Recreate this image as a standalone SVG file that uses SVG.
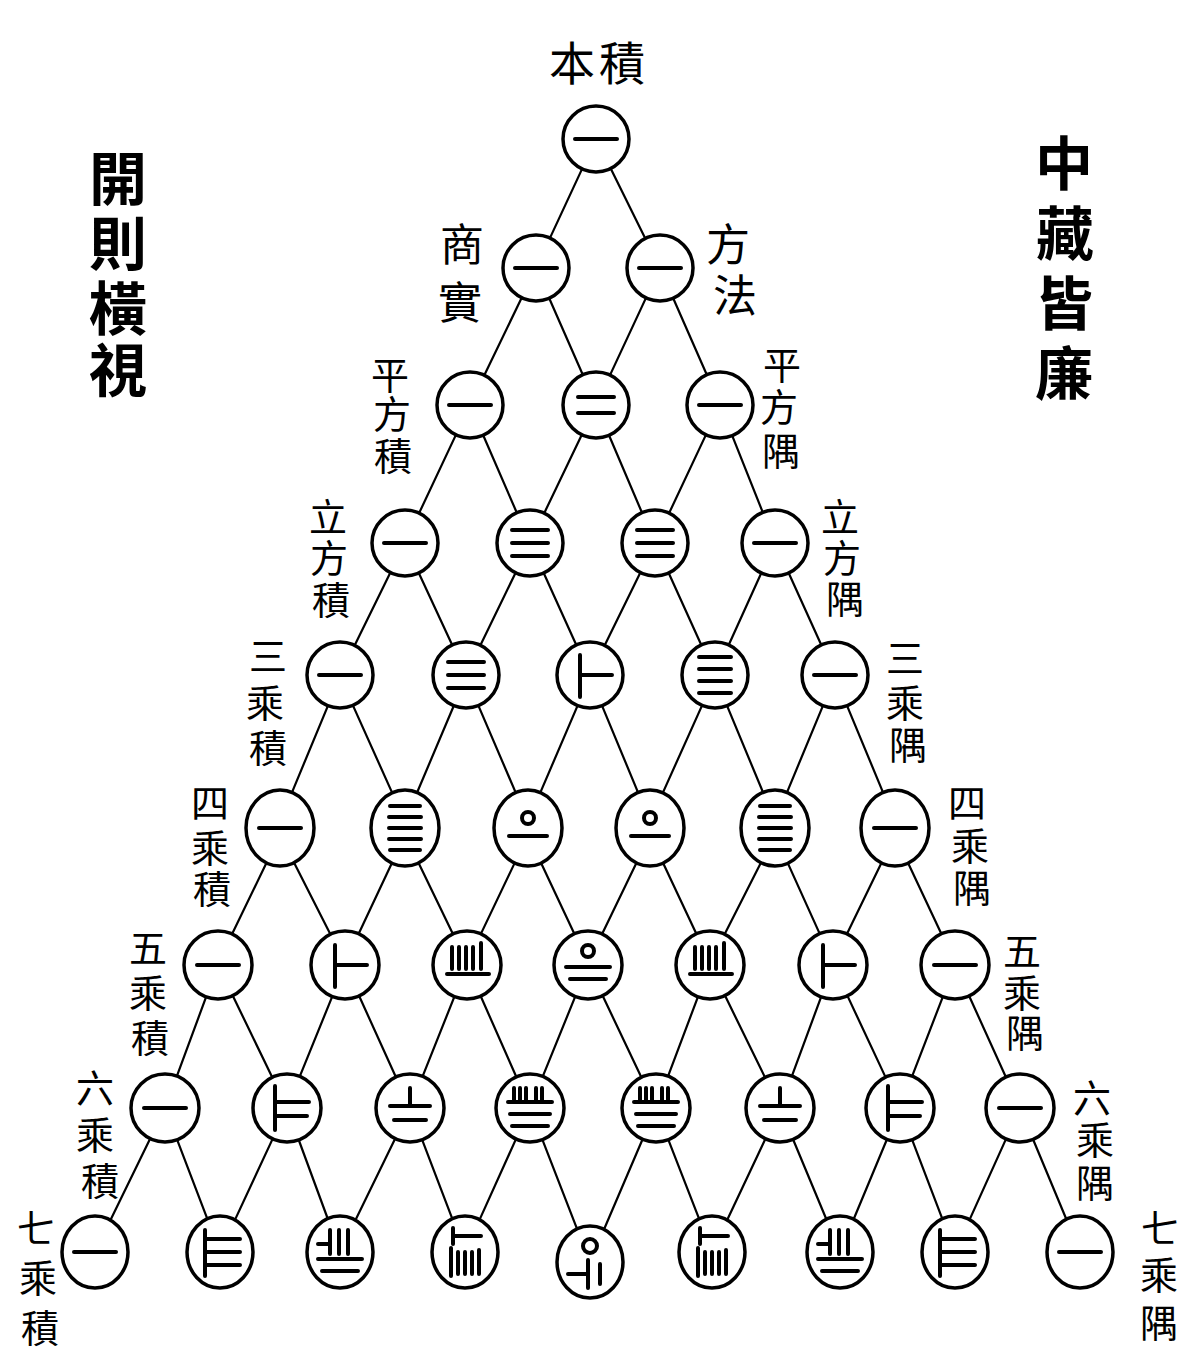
<svg xmlns="http://www.w3.org/2000/svg" width="1186" height="1355" viewBox="0 0 1186 1355">
<style>
  .bg{fill:#fff}
  .node circle,.node ellipse{fill:#fff;stroke:#000;stroke-width:3.5}
  .rod{fill:none;stroke:#000;stroke-width:4;stroke-linecap:round}
  .conn line{stroke:#000;stroke-width:2.2;stroke-linecap:round}
  .lab{font-family:"Noto Sans CJK TC","Noto Sans CJK SC",sans-serif;font-size:38px;text-anchor:middle;dominant-baseline:central;fill:#000}
  .ttl{font-family:"Noto Sans CJK TC","Noto Sans CJK SC",sans-serif;font-size:58px;font-weight:700;text-anchor:middle;dominant-baseline:central;fill:#000}
</style>
<defs>
  <g id="r1" class="rod"><path d="M-21,0H21"/></g>
  <g id="r2" class="rod"><path d="M-18,-8H18M-18,8H18"/></g>
  <g id="r3" class="rod"><path d="M-18,-13H18M-18,0H18M-18,13H18"/></g>
  <g id="r4" class="rod"><path d="M-16,-18H16M-16,-6H16M-16,6H16M-16,18H16"/></g>
  <g id="r5" class="rod"><path d="M-15,-22H15M-16,-11H16M-16,0H16M-16,11H16M-15,22H15"/></g>
  <g id="r6" class="rod"><path d="M-10,-20V22M-10,0H22"/></g>
  <g id="r7" class="rod"><path d="M-12,-22V22M-12,-6H22M-12,8H20"/></g>
  <g id="r8" class="rod"><path d="M-15,-22V24M-15,-13H20M-15,0H20M-15,13H20"/></g>
  <g id="r10" class="rod"><circle cx="0" cy="-10" r="6"/><path d="M-19,8H19"/></g>
  <g id="r15" class="rod"><path d="M-15,-18V4M-8,-18V4M-1,-18V4M6,-18V4M14,-22V4M-20,9H22"/></g>
  <g id="r20" class="rod"><circle cx="0" cy="-14" r="6"/><path d="M-22,2H22M-18,14H18"/></g>
  <g id="r21" class="rod"><path d="M0,-20V-2M-20,-2H20M-16,12H16"/></g>
  <g id="r28" class="rod"><path d="M-22,-8H-10M-10,-22V2M-1,-22V2M8,-22V2M-22,7H22M-18,19H18"/></g>
  <g id="r35" class="rod"><path d="M-16,-20V-6M-10,-20V-6M-4,-20V-6M6,-20V-6M12,-20V-6M-22,-6H22M-20,6H20M-18,18H18"/></g>
  <g id="r56" class="rod"><path d="M-12,-24V-8M-12,-16H16M-14,-4V24M-7,0V22M0,0V22M7,0V22M14,-2V22"/></g>
  <g id="r70" class="rod"><circle cx="0" cy="-16" r="7"/><path d="M-2,-2V26M-22,12H-2M10,2V22"/></g>
</defs>
<rect class="bg" x="0" y="0" width="1186" height="1355"/>

<g id="connectors" class="conn">
  <line x1="582.1" y1="168.9" x2="549.9" y2="238.1"/>
  <line x1="610.7" y1="168.6" x2="645.3" y2="238.4"/>

  <line x1="521.7" y1="297.7" x2="484.3" y2="375.3"/>
  <line x1="549.2" y1="298.2" x2="582.8" y2="374.8"/>
  <line x1="646" y1="297.9" x2="610" y2="375.1"/>
  <line x1="673.2" y1="298.2" x2="706.8" y2="374.8"/>

  <line x1="455.9" y1="434.9" x2="419.1" y2="513.1"/>
  <line x1="483.2" y1="435.3" x2="516.8" y2="512.7"/>
  <line x1="581.8" y1="434.8" x2="544.2" y2="513.2"/>
  <line x1="609" y1="435.3" x2="642" y2="512.7"/>
  <line x1="705.9" y1="434.9" x2="669.1" y2="513.1"/>
  <line x1="732.2" y1="435.6" x2="762.8" y2="512.4"/>

  <line x1="390.4" y1="572.6" x2="354.6" y2="645.4"/>
  <line x1="418.8" y1="573" x2="452.2" y2="645"/>
  <line x1="515.6" y1="572.7" x2="480.4" y2="645.3"/>
  <line x1="543.7" y1="573" x2="576.3" y2="645"/>
  <line x1="640.4" y1="572.6" x2="604.6" y2="645.4"/>
  <line x1="668.7" y1="573" x2="701.3" y2="645"/>
  <line x1="761.3" y1="573" x2="728.7" y2="645"/>
  <line x1="788.7" y1="573" x2="821.3" y2="645"/>

  <line x1="328" y1="705.7" x2="292" y2="792.3"/>
  <line x1="352.9" y1="705.4" x2="392.1" y2="792.6"/>
  <line x1="453.8" y1="705.7" x2="417.2" y2="792.3"/>
  <line x1="478.4" y1="705.6" x2="515.6" y2="792.4"/>
  <line x1="577.6" y1="705.6" x2="540.4" y2="792.4"/>
  <line x1="602" y1="705.7" x2="638" y2="792.3"/>
  <line x1="702.1" y1="705.4" x2="662.9" y2="792.6"/>
  <line x1="727" y1="705.7" x2="763" y2="792.3"/>
  <line x1="823" y1="705.7" x2="787" y2="792.3"/>
  <line x1="847" y1="705.7" x2="883" y2="792.3"/>

  <line x1="266.4" y1="863.1" x2="231.6" y2="934.9"/>
  <line x1="294.1" y1="862.8" x2="330.9" y2="935.2"/>
  <line x1="391.8" y1="863.2" x2="358.2" y2="934.8"/>
  <line x1="418.6" y1="863.1" x2="453.4" y2="934.9"/>
  <line x1="514.6" y1="863.1" x2="480.4" y2="934.9"/>
  <line x1="541.2" y1="863.2" x2="574.8" y2="934.8"/>
  <line x1="636.4" y1="863.1" x2="601.6" y2="934.9"/>
  <line x1="663.2" y1="863.2" x2="696.8" y2="934.8"/>
  <line x1="760.9" y1="862.8" x2="724.1" y2="935.2"/>
  <line x1="787.9" y1="863.4" x2="820.1" y2="934.6"/>
  <line x1="881.4" y1="863.1" x2="846.4" y2="934.9"/>
  <line x1="908.2" y1="863.2" x2="941.8" y2="934.8"/>

  <line x1="206.5" y1="995.9" x2="176.5" y2="1077.1"/>
  <line x1="232.3" y1="994.7" x2="272.7" y2="1078.3"/>
  <line x1="332.6" y1="995.6" x2="299.4" y2="1077.4"/>
  <line x1="358.7" y1="995" x2="396.3" y2="1078"/>
  <line x1="454.8" y1="995.7" x2="422.2" y2="1077.3"/>
  <line x1="480.3" y1="995.2" x2="516.7" y2="1077.8"/>
  <line x1="575.6" y1="995.6" x2="542.4" y2="1077.4"/>
  <line x1="602.2" y1="994.8" x2="641.8" y2="1078.2"/>
  <line x1="698.3" y1="995.9" x2="667.7" y2="1077.1"/>
  <line x1="724.5" y1="994.6" x2="765.5" y2="1078.4"/>
  <line x1="821.5" y1="995.9" x2="791.5" y2="1077.1"/>
  <line x1="847" y1="994.9" x2="886" y2="1078.1"/>
  <line x1="943.2" y1="995.8" x2="911.8" y2="1077.2"/>
  <line x1="968.7" y1="995" x2="1006.3" y2="1078"/>

  <line x1="150.6" y1="1137.7" x2="109.4" y2="1222.3"/>
  <line x1="176.8" y1="1138.8" x2="208.2" y2="1221.2"/>
  <line x1="273.1" y1="1137.9" x2="233.9" y2="1222.1"/>
  <line x1="298.4" y1="1139" x2="328.6" y2="1221"/>
  <line x1="395.6" y1="1137.7" x2="354.4" y2="1222.3"/>
  <line x1="421.8" y1="1138.8" x2="453.2" y2="1221.2"/>
  <line x1="516.4" y1="1138.1" x2="478.6" y2="1221.9"/>
  <line x1="542" y1="1138.7" x2="578" y2="1231.3"/>
  <line x1="643" y1="1138.3" x2="603" y2="1231.7"/>
  <line x1="668" y1="1138.8" x2="700" y2="1221.2"/>
  <line x1="765.9" y1="1137.8" x2="726.1" y2="1222.2"/>
  <line x1="792.7" y1="1138.5" x2="827.3" y2="1221.5"/>
  <line x1="887.3" y1="1138.5" x2="852.7" y2="1221.5"/>
  <line x1="911.8" y1="1138.8" x2="943.2" y2="1221.2"/>
  <line x1="1006.4" y1="1138.1" x2="968.6" y2="1221.9"/>
  <line x1="1032.7" y1="1138.5" x2="1067.3" y2="1221.5"/>
</g>

<!-- row 0 -->
<g id="n0_0" class="node"><circle cx="596" cy="139" r="33"/><use href="#r1" x="596" y="139"/></g>
<!-- row 1 -->
<g id="n1_0" class="node"><circle cx="536" cy="268" r="33"/><use href="#r1" x="536" y="268"/></g>
<g id="n1_1" class="node"><circle cx="660" cy="268" r="33"/><use href="#r1" x="660" y="268"/></g>
<!-- row 2 -->
<g id="n2_0" class="node"><circle cx="470" cy="405" r="33"/><use href="#r1" x="470" y="405"/></g>
<g id="n2_1" class="node"><circle cx="596" cy="405" r="33"/><use href="#r2" x="596" y="405"/></g>
<g id="n2_2" class="node"><circle cx="720" cy="405" r="33"/><use href="#r1" x="720" y="405"/></g>
<!-- row 3 -->
<g id="n3_0" class="node"><circle cx="405" cy="543" r="33"/><use href="#r1" x="405" y="543"/></g>
<g id="n3_1" class="node"><circle cx="530" cy="543" r="33"/><use href="#r3" x="530" y="543"/></g>
<g id="n3_2" class="node"><circle cx="655" cy="543" r="33"/><use href="#r3" x="655" y="543"/></g>
<g id="n3_3" class="node"><circle cx="775" cy="543" r="33"/><use href="#r1" x="775" y="543"/></g>
<!-- row 4 -->
<g id="n4_0" class="node"><circle cx="340" cy="675" r="33"/><use href="#r1" x="340" y="675"/></g>
<g id="n4_1" class="node"><circle cx="466" cy="675" r="33"/><use href="#r3" x="466" y="675"/></g>
<g id="n4_2" class="node"><circle cx="590" cy="675" r="33"/><use href="#r6" x="590" y="675"/></g>
<g id="n4_3" class="node"><circle cx="715" cy="675" r="33"/><use href="#r4" x="715" y="675"/></g>
<g id="n4_4" class="node"><circle cx="835" cy="675" r="33"/><use href="#r1" x="835" y="675"/></g>
<!-- row 5 -->
<g id="n5_0" class="node"><ellipse cx="280" cy="828" rx="34" ry="38"/><use href="#r1" x="280" y="828"/></g>
<g id="n5_1" class="node"><ellipse cx="405" cy="828" rx="34" ry="38"/><use href="#r5" x="405" y="828"/></g>
<g id="n5_2" class="node"><ellipse cx="528" cy="828" rx="34" ry="38"/><use href="#r10" x="528" y="828"/></g>
<g id="n5_3" class="node"><ellipse cx="650" cy="828" rx="34" ry="38"/><use href="#r10" x="650" y="828"/></g>
<g id="n5_4" class="node"><ellipse cx="775" cy="828" rx="34" ry="38"/><use href="#r5" x="775" y="828"/></g>
<g id="n5_5" class="node"><ellipse cx="895" cy="828" rx="34" ry="38"/><use href="#r1" x="895" y="828"/></g>
<!-- row 6 -->
<g id="n6_0" class="node"><circle cx="218" cy="965" r="34"/><use href="#r1" x="218" y="965"/></g>
<g id="n6_1" class="node"><circle cx="345" cy="965" r="34"/><use href="#r6" x="345" y="965"/></g>
<g id="n6_2" class="node"><circle cx="467" cy="965" r="34"/><use href="#r15" x="467" y="965"/></g>
<g id="n6_3" class="node"><circle cx="588" cy="965" r="34"/><use href="#r20" x="588" y="965"/></g>
<g id="n6_4" class="node"><circle cx="710" cy="965" r="34"/><use href="#r15" x="710" y="965"/></g>
<g id="n6_5" class="node"><circle cx="833" cy="965" r="34"/><use href="#r6" x="833" y="965"/></g>
<g id="n6_6" class="node"><circle cx="955" cy="965" r="34"/><use href="#r1" x="955" y="965"/></g>
<!-- row 7 -->
<g id="n7_0" class="node"><circle cx="165" cy="1108" r="34"/><use href="#r1" x="165" y="1108"/></g>
<g id="n7_1" class="node"><circle cx="287" cy="1108" r="34"/><use href="#r7" x="287" y="1108"/></g>
<g id="n7_2" class="node"><circle cx="410" cy="1108" r="34"/><use href="#r21" x="410" y="1108"/></g>
<g id="n7_3" class="node"><circle cx="530" cy="1108" r="34"/><use href="#r35" x="530" y="1108"/></g>
<g id="n7_4" class="node"><circle cx="656" cy="1108" r="34"/><use href="#r35" x="656" y="1108"/></g>
<g id="n7_5" class="node"><circle cx="780" cy="1108" r="34"/><use href="#r21" x="780" y="1108"/></g>
<g id="n7_6" class="node"><circle cx="900" cy="1108" r="34"/><use href="#r7" x="900" y="1108"/></g>
<g id="n7_7" class="node"><circle cx="1020" cy="1108" r="34"/><use href="#r1" x="1020" y="1108"/></g>
<!-- row 8 -->
<g id="n8_0" class="node"><ellipse cx="95" cy="1252" rx="33" ry="36"/><use href="#r1" x="95" y="1252"/></g>
<g id="n8_1" class="node"><ellipse cx="220" cy="1252" rx="33" ry="36"/><use href="#r8" x="220" y="1252"/></g>
<g id="n8_2" class="node"><ellipse cx="340" cy="1252" rx="33" ry="36"/><use href="#r28" x="340" y="1252"/></g>
<g id="n8_3" class="node"><ellipse cx="465" cy="1252" rx="33" ry="36"/><use href="#r56" x="465" y="1252"/></g>
<g id="n8_4" class="node"><ellipse cx="590" cy="1262" rx="33" ry="36"/><use href="#r70" x="590" y="1262"/></g>
<g id="n8_5" class="node"><ellipse cx="712" cy="1252" rx="33" ry="36"/><use href="#r56" x="712" y="1252"/></g>
<g id="n8_6" class="node"><ellipse cx="840" cy="1252" rx="33" ry="36"/><use href="#r28" x="840" y="1252"/></g>
<g id="n8_7" class="node"><ellipse cx="955" cy="1252" rx="33" ry="36"/><use href="#r8" x="955" y="1252"/></g>
<g id="n8_8" class="node"><ellipse cx="1080" cy="1252" rx="33" ry="36"/><use href="#r1" x="1080" y="1252"/></g>

<g id="labels">
  <text class="lab" x="572" y="60" style="font-size:46px">本</text>
  <text class="lab" x="622" y="60" style="font-size:46px">積</text>

  <text class="lab" x="462" y="242" style="font-size:44px">商</text>
  <text class="lab" x="460" y="300" style="font-size:44px">實</text>
  <text class="lab" x="728" y="242" style="font-size:44px">方</text>
  <text class="lab" x="735" y="293" style="font-size:44px">法</text>

  <text class="lab" x="390" y="372">平</text>
  <text class="lab" x="392" y="411">方</text>
  <text class="lab" x="393" y="453">積</text>
  <text class="lab" x="782" y="362">平</text>
  <text class="lab" x="779" y="404">方</text>
  <text class="lab" x="781" y="448">隅</text>

  <text class="lab" x="328" y="514">立</text>
  <text class="lab" x="329" y="555">方</text>
  <text class="lab" x="331" y="597">積</text>
  <text class="lab" x="840" y="514">立</text>
  <text class="lab" x="842" y="555">方</text>
  <text class="lab" x="845" y="596">隅</text>

  <text class="lab" x="268" y="653">三</text>
  <text class="lab" x="265" y="700">乘</text>
  <text class="lab" x="268" y="745">積</text>
  <text class="lab" x="905" y="655">三</text>
  <text class="lab" x="905" y="700">乘</text>
  <text class="lab" x="908" y="742">隅</text>

  <text class="lab" x="210" y="800">四</text>
  <text class="lab" x="210" y="845">乘</text>
  <text class="lab" x="212" y="886">積</text>
  <text class="lab" x="967" y="800">四</text>
  <text class="lab" x="970" y="843">乘</text>
  <text class="lab" x="972" y="885">隅</text>

  <text class="lab" x="148" y="945">五</text>
  <text class="lab" x="148" y="990">乘</text>
  <text class="lab" x="150" y="1035">積</text>
  <text class="lab" x="1022" y="948">五</text>
  <text class="lab" x="1022" y="990">乘</text>
  <text class="lab" x="1025" y="1030">隅</text>

  <text class="lab" x="95" y="1085">六</text>
  <text class="lab" x="95" y="1132">乘</text>
  <text class="lab" x="100" y="1178">積</text>
  <text class="lab" x="1092" y="1095">六</text>
  <text class="lab" x="1095" y="1137">乘</text>
  <text class="lab" x="1095" y="1180">隅</text>

  <text class="lab" x="36" y="1225">七</text>
  <text class="lab" x="38" y="1275">乘</text>
  <text class="lab" x="40" y="1325">積</text>
  <text class="lab" x="1160" y="1225">七</text>
  <text class="lab" x="1159" y="1272">乘</text>
  <text class="lab" x="1159" y="1320">隅</text>
</g>

<g id="titles">
  <text class="ttl" x="118" y="175">開</text>
  <text class="ttl" x="118" y="240">則</text>
  <text class="ttl" x="118" y="305">橫</text>
  <text class="ttl" x="118" y="367">視</text>
  <text class="ttl" x="1064" y="160">中</text>
  <text class="ttl" x="1065" y="230">藏</text>
  <text class="ttl" x="1064" y="300">皆</text>
  <text class="ttl" x="1064" y="370">廉</text>
</g>
</svg>
